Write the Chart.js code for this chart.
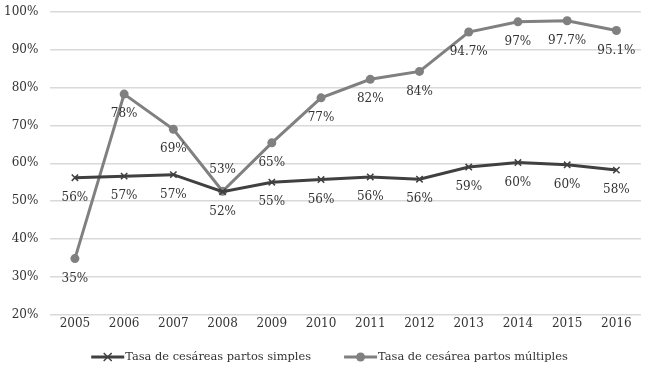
<!DOCTYPE html>
<html lang="es">
<head>
<meta charset="UTF-8">
<title>Tasa de cesáreas</title>
<script src="https://cdn.jsdelivr.net/npm/chart.js"></script>
<style>
    html, body { margin: 0; padding: 0; background: #fff; }
    #wrap { width: 649px; height: 374px; }
</style>
</head>
<body>
<div id="wrap"><canvas id="myLineChart"></canvas></div>
<script>
// data
var years = ['2005', '2006', '2007', '2008', '2009', '2010', '2011', '2012', '2013', '2014', '2015', '2016'];
var simples = [56.2, 56.6, 57.0, 52.5, 55.0, 55.7, 56.4, 55.8, 59.0, 60.2, 59.6, 58.2];
var multiples = [34.8, 78.3, 69.0, 52.6, 65.4, 77.3, 82.2, 84.3, 94.7, 97.4, 97.7, 95.1];
var simplesLabels = ['56%', '57%', '57%', '52%', '55%', '56%', '56%', '56%', '59%', '60%', '60%', '58%'];
var multiplesLabels = ['35%', '78%', '69%', '53%', '65%', '77%', '82%', '84%', '94.7%', '97%', '97.7%', '95.1%'];
var yTicks = [20, 30, 40, 50, 60, 70, 80, 90, 100];

var FONT = '"DejaVu Serif", "Liberation Serif", serif';
var darkColor = '#404040';
var grayColor = '#808080';

var valueLabels = {
    id: 'valueLabels',
    afterDatasetsDraw: function (chart) {
        var ctx = chart.ctx;
        var sets = [simplesLabels, multiplesLabels];
        ctx.save();
        ctx.font = '12px ' + FONT;
        ctx.fillStyle = '#333';
        ctx.textAlign = 'center';
        ctx.textBaseline = 'middle';
        chart.data.datasets.forEach(function (ds, i) {
            var meta = chart.getDatasetMeta(i);
            meta.data.forEach(function (pt, j) {
                var dy = 20;
                // the 2008 label of the second series sits above its point
                if (i === 1 && j === 3) dy = -21;
                ctx.fillText(sets[i][j], pt.x, pt.y + dy);
            });
        });
        ctx.restore();
    }
};

// legend drawn by hand: line with marker, text right after it
var lineLegend = {
    id: 'lineLegend',
    afterDraw: function (chart) {
        var ctx = chart.ctx;
        var y = 357;
        var lineW = 33, gap = 33;
        ctx.save();
        ctx.font = '11.4px ' + FONT;
        var items = chart.data.datasets.map(function (ds, i) {
            return { ds: ds, w: ctx.measureText(ds.label).width, marker: i === 0 ? 'x' : 'o' };
        });
        var total = 0;
        items.forEach(function (it, i) { total += lineW + 1 + it.w + (i > 0 ? gap : 0); });
        var x = (chart.width - total) / 2 + 5;
        items.forEach(function (it) {
            ctx.strokeStyle = it.ds.borderColor;
            ctx.fillStyle = it.ds.borderColor;
            ctx.lineWidth = 3;
            ctx.beginPath(); ctx.moveTo(x, y); ctx.lineTo(x + lineW, y); ctx.stroke();
            var cx = x + lineW / 2;
            if (it.marker === 'x') {
                ctx.lineWidth = 1.5;
                ctx.beginPath();
                ctx.moveTo(cx - 4, y - 4); ctx.lineTo(cx + 4, y + 4);
                ctx.moveTo(cx + 4, y - 4); ctx.lineTo(cx - 4, y + 4);
                ctx.stroke();
            } else {
                ctx.beginPath(); ctx.arc(cx, y, 4.5, 0, Math.PI * 2); ctx.fill();
            }
            ctx.fillStyle = '#333';
            ctx.textAlign = 'left';
            ctx.textBaseline = 'middle';
            ctx.fillText(it.ds.label, x + lineW + 1, y);
            x += lineW + 1 + it.w + gap;
        });
        ctx.restore();
    }
};

var ctx = document.getElementById('myLineChart').getContext('2d');
var myLineChart = new Chart(ctx, {
    type: 'line',
    data: {
        labels: years,
        datasets: [{
            label: 'Tasa de cesáreas partos simples',
            data: simples,
            borderColor: darkColor,
            backgroundColor: darkColor,
            borderWidth: 3,
            pointStyle: 'crossRot',
            pointRadius: 4.5,
            pointBorderWidth: 1.5,
            pointBorderColor: darkColor,
            tension: 0,
            fill: false
        }, {
            label: 'Tasa de cesárea partos múltiples',
            data: multiples,
            borderColor: grayColor,
            backgroundColor: grayColor,
            borderWidth: 3,
            pointStyle: 'circle',
            pointRadius: 4.5,
            pointBorderWidth: 0,
            tension: 0,
            fill: false
        }]
    },
    options: {
        responsive: true,
        maintainAspectRatio: false,
        animation: false,
        layout: { padding: { top: 12, right: 8, left: 4, bottom: 41 } },
        scales: {
            x: {
                offset: true,
                grid: { display: false, drawTicks: false },
                border: { display: false },
                ticks: { color: '#333', font: { family: FONT, size: 12 }, padding: 2 }
            },
            y: {
                min: 20,
                max: 100,
                afterBuildTicks: function (axis) {
                    axis.ticks = yTicks.map(function (v) { return { value: v }; });
                },
                grid: { color: '#d9d9d9', lineWidth: 1.5, drawTicks: true, tickLength: 12, tickColor: 'rgba(0,0,0,0)' },
                border: { display: false },
                ticks: {
                    color: '#333',
                    font: { family: FONT, size: 12 },
                    padding: 0,
                    callback: function (v) { return v + '%'; }
                }
            }
        },
        plugins: {
            legend: { display: false },
            tooltip: { enabled: false }
        }
    },
    plugins: [valueLabels, lineLegend]
});
</script>
</body>
</html>
